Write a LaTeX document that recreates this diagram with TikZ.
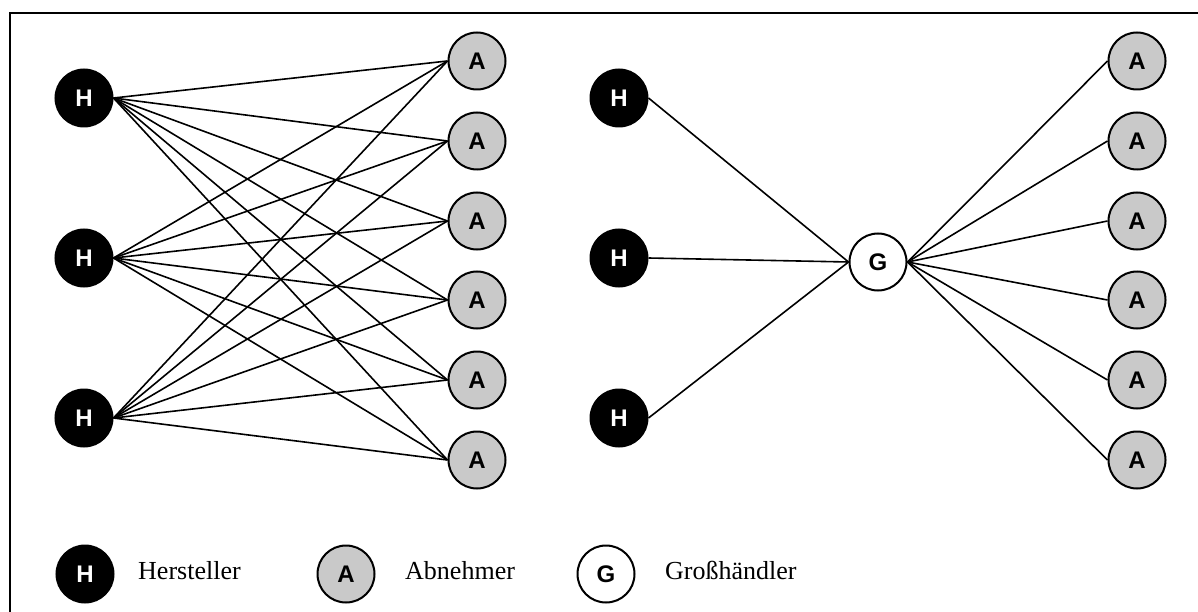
\documentclass[tikz,border=0pt]{standalone}
\usepackage{fontspec}
\setmainfont{Liberation Serif}
\newfontfamily\letterfont{Liberation Sans}
\begin{document}
\begin{tikzpicture}[x=1pt,y=-1pt,
  party/.style={circle,draw=black,line width=2pt,minimum size=57pt,inner sep=0pt,
    font=\letterfont\fontsize{24}{24}\selectfont\bfseries},
  hnode/.style={party,fill=black,text=white},
  anode/.style={party,fill=black!21,text=black},
  gnode/.style={party,fill=white,text=black},
  link/.style={line width=1.6pt,black},
  legendtext/.style={anchor=base west,font=\fontsize{26}{26}\selectfont,inner sep=0pt}]
\useasboundingbox (0,0) rectangle (1198,612);
% frame
\draw[line width=2pt] (10,612) -- (10,13) -- (1198,13);

% left: every manufacturer to every customer
\foreach \i/\y in {1/98,2/258,3/418}
  \node[hnode] (lh\i) at (84,\y) {H};
\foreach \j/\y in {1/61,2/141,3/221,4/300,5/380,6/460}
  \node[anode] (la\j) at (477,\y) {A};
\foreach \i in {1,2,3}
  \foreach \j in {1,...,6}
    \draw[link] (lh\i.east) -- (la\j.west);

% right: trade via a wholesaler
\foreach \i/\y in {1/98,2/258,3/418}
  \node[hnode] (rh\i) at (619,\y) {H};
\node[gnode] (g) at (878,262) {G};
\foreach \j/\y in {1/61,2/141,3/221,4/300,5/380,6/460}
  \node[anode] (ra\j) at (1137,\y) {A};
\foreach \i in {1,2,3}
  \draw[link] (rh\i.east) -- (g.west);
\foreach \j in {1,...,6}
  \draw[link] (g.east) -- (ra\j.west);

% legend
\node[hnode] (kh) at (85,574) {H};
\node[legendtext] (kht) at (138,579) {Hersteller};
\node[anode] (ka) at (346,574) {A};
\node[legendtext] (kat) at (405,579) {Abnehmer};
\node[gnode] (kg) at (606,574) {G};
\node[legendtext] (kgt) at (665,579) {Großhändler};
\end{tikzpicture}
\end{document}
